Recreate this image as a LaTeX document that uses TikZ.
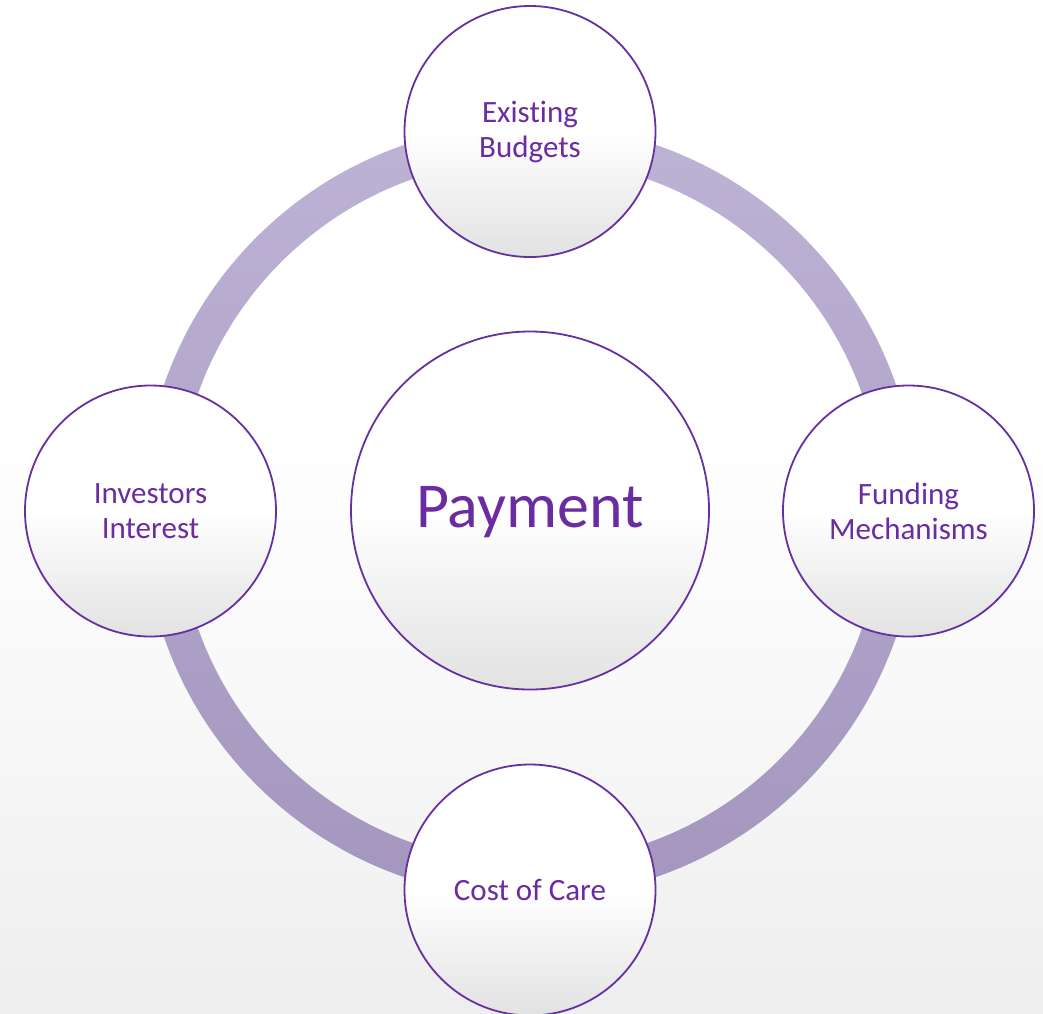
\documentclass[tikz,border=0pt]{standalone}
\usepackage{fontspec}
\setmainfont{Carlito}[Ligatures=NoCommon]
\definecolor{purp}{HTML}{6630A0}
\definecolor{txtp}{HTML}{6A2CA0}
\definecolor{ringTop}{HTML}{BDB3D5}
\definecolor{ringBot}{HTML}{A496BE}
\definecolor{fillBot}{HTML}{E2E2E2}
\definecolor{bgBot}{HTML}{EEEEEE}
\definecolor{bgMid}{HTML}{F9F9F9}
\pgfdeclareverticalshading{circfill}{100bp}{color(0bp)=(fillBot); color(25bp)=(fillBot); color(50bp)=(white); color(100bp)=(white)}
\pgfdeclareverticalshading{bgfill}{100bp}{color(0bp)=(bgBot); color(25bp)=(bgBot); color(42bp)=(bgMid); color(55bp)=(white); color(100bp)=(white)}
\tikzset{
  bubble/.style={circle, draw=purp, line width=1.8pt, shade, shading=circfill, inner sep=0pt, text=txtp},
  sat/.style={bubble, align=center, minimum size=251pt, font=\fontsize{31}{35}\selectfont},
  hub/.style={bubble, minimum size=358pt, font=\fontsize{64}{70}\selectfont, text height=41pt, text depth=7pt},
}
\begin{document}
\begin{tikzpicture}[x=1pt,y=-1pt]
\useasboundingbox (0,0) rectangle (1043,1013);
\shade[shading=bgfill] (0,0) rectangle (1043,1013);
\coordinate (c) at (530,511);
\path[top color=ringTop, bottom color=ringBot, even odd rule]
  (c) circle[radius=387] (c) circle[radius=352];
\node[hub] (pay) at (530,510.5) {Payment};
\node[sat] (eb) at (530,131.5) {Existing\\Budgets};
\node[sat] (fm) at (908.5,511) {Funding\\Mechanisms};
\node[sat] (ii) at (150.5,511) {Investors\\Interest};
\node[sat] (cc) at (530,890) {Cost of Care};
\end{tikzpicture}
\end{document}
